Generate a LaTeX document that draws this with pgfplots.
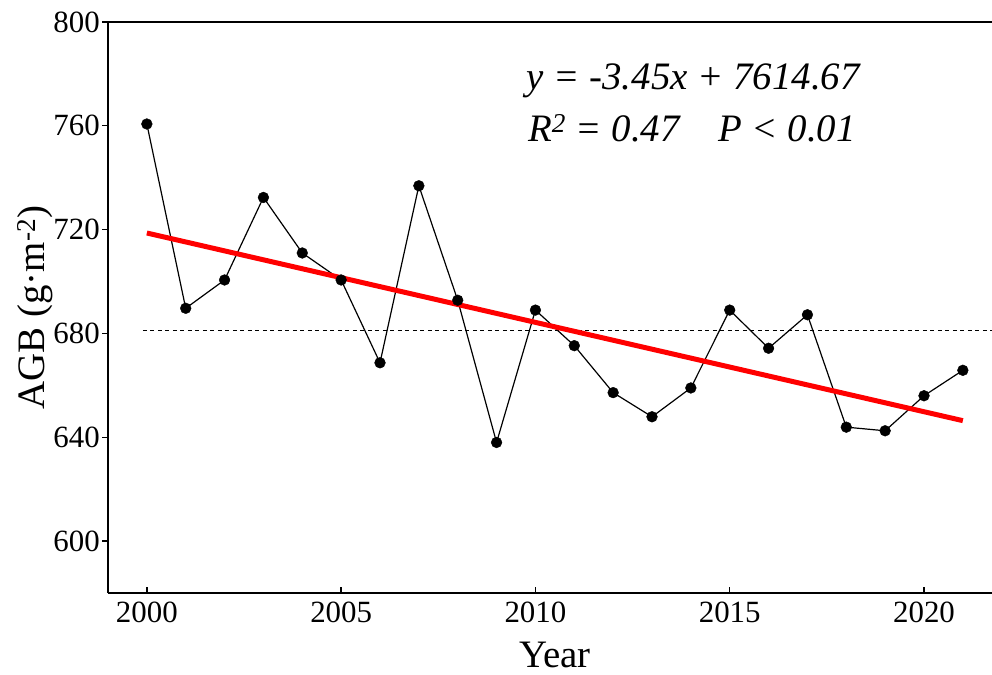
\documentclass[border=0pt]{standalone}
\usepackage{pgfplots}
\usepackage{pgfplotstable}
\pgfplotsset{compat=1.18}
\usepackage{fontspec}
\setmainfont{Liberation Serif}

\pgfplotstableread{
year agb
2000 760.7
2001 689.7
2002 700.6
2003 732.4
2004 711.0
2005 700.6
2006 668.7
2007 736.9
2008 692.8
2009 638.0
2010 689.0
2011 675.3
2012 657.2
2013 647.9
2014 659.0
2015 689.0
2016 674.3
2017 687.2
2018 643.9
2019 642.5
2020 656.0
2021 665.8
}\agbdata

\begin{document}
\begin{tikzpicture}
\begin{axis}[
    scale only axis,
    width=884bp, height=571bp,
    xmin=1999, xmax=2021.75,
    ymin=580, ymax=800,
    axis x line*=bottom, axis y line*=left,
    axis line style={line width=1.5bp,-},
    xtick={2000,2005,...,2020},
    ytick={600,640,...,800},
    xtick align=inside, ytick align=outside,
    major tick length=6bp,
    every tick/.style={black, line width=1.3bp},
    tick label style={font=\fontsize{31}{37}\selectfont},
    /pgf/number format/assume math mode=true,
    /pgf/number format/1000 sep={},
    xticklabel style={inner sep=0pt, yshift=-9bp},
    yticklabel style={inner sep=0pt, xshift=-2bp},
    xlabel={Year},
    ylabel={AGB (g·m\textsuperscript{-2})},
    every axis x label/.style={at={(axis description cs:0.5057,-0.1313)}, anchor=base, font=\fontsize{39}{46}\selectfont},
    every axis y label/.style={at={(axis description cs:-0.0713,0.5)}, anchor=base, rotate=90, font=\fontsize{39}{46}\selectfont},
    clip=false,
]
% top frame line, no right one
\draw[line width=1.5bp, line cap=rect] (rel axis cs:0,1) -- (rel axis cs:1,1);

% mean
\addplot[black, line width=1bp, dash pattern=on 4bp off 3.5bp] coordinates {(1999.9,681.3) (2021.75,681.3)};
\addplot[black, line width=1.2bp, no markers] table[x=year, y=agb] {\agbdata};
% linear fit
\addplot[red, line width=5bp] coordinates {(2000,718.7) (2021,646.4)};
\addplot[black, only marks, mark=*, mark size=5.4bp] table[x=year, y=agb] {\agbdata};

\node[anchor=base west, inner sep=0pt, font=\fontsize{39}{46}\selectfont\itshape] at (axis cs:2009.77,773.8) {y = -3.45x + 7614.67};
\node[anchor=base west, inner sep=0pt, font=\fontsize{39}{46}\selectfont\itshape] at (axis cs:2009.81,753.8) {R\textsuperscript{2} = 0.47};
\node[anchor=base west, inner sep=0pt, font=\fontsize{39}{46}\selectfont\itshape] at (axis cs:2014.70,753.8) {P < 0.01};

\coordinate (o) at (rel axis cs:0,0);
\coordinate (ne) at (rel axis cs:1,1);
\end{axis}
\pgfresetboundingbox
\path (o) +(-108bp,-82bp) (ne) +(0bp,22bp);
\end{tikzpicture}
\end{document}
